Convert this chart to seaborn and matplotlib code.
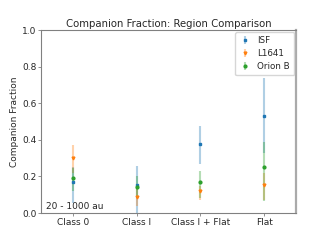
import numpy as np
import matplotlib
matplotlib.use("Agg")
import matplotlib.pyplot as plt
import seaborn as sns

sns.set_theme(style="white")
plt.rcParams['font.family'] = ['DejaVu Sans']

# values
categories = ['Class 0', 'Class I', 'Class I + Flat', 'Flat']
regions = ['ISF', 'L1641', 'Orion B']
isf = [0.17, 0.153, 0.377, 0.53]
isf_lo = [0.055, 0.0, 0.27, 0.33]
isf_hi = [0.25, 0.257, 0.475, 0.74]
l1641 = [0.30, 0.087, 0.12, 0.153]
l1641_lo = [0.22, 0.04, 0.07, 0.07]
l1641_hi = [0.37, 0.13, 0.15, 0.22]
orionb = [0.19, 0.143, 0.17, 0.25]
orionb_lo = [0.12, 0.08, 0.08, 0.065]
orionb_hi = [0.245, 0.20, 0.23, 0.39]

colors = sns.color_palette("tab10")[:3]
markers = ['s', 'v', 'o']
series = [(isf, isf_lo, isf_hi), (l1641, l1641_lo, l1641_hi), (orionb, orionb_lo, orionb_hi)]

fig, ax = plt.subplots(figsize=(3.3, 2.4), dpi=100)
x = np.arange(len(categories))
for name, (v, lo, hi), c, m in zip(regions, series, colors, markers):
    v = np.array(v)
    err = [v - np.array(lo), np.array(hi) - v]
    ax.errorbar(x, v, yerr=err, fmt=m, color=c, ms=2, elinewidth=1.5,
                ecolor=(*c, 0.35), capsize=0, label=name)

ax.set_xlim(-0.5, 3.5)
ax.set_ylim(0, 1.0)
ax.set_xticks(x)
ax.set_xticklabels(categories)
ax.set_yticks([0, 0.2, 0.4, 0.6, 0.8, 1.0])
ax.tick_params(axis='both', labelsize=6.5, length=2, width=0.6, color='gray', pad=1.5, bottom=True, left=True)
ax.set_ylabel('Companion Fraction', fontsize=6.5, labelpad=2)
ax.set_title('Companion Fraction: Region Comparison', fontsize=7.3, pad=2)
ax.text(0.02, 0.01, '20 - 1000 au', transform=ax.transAxes, fontsize=6.5, va='bottom')
for s in ax.spines.values():
    s.set_color('gray')
    s.set_linewidth(0.8)
ax.spines['right'].set_linewidth(1.6)
ax.spines['right'].set_color('#aaaaaa')
ax.legend(fontsize=6.3, loc='upper right', frameon=True, handlelength=1.2, borderpad=0.5,
          labelspacing=0.45, handletextpad=0.8, borderaxespad=0.2)

fig.subplots_adjust(left=0.125, right=0.897, bottom=0.112, top=0.875)
fig.savefig('out.png', dpi=100)
